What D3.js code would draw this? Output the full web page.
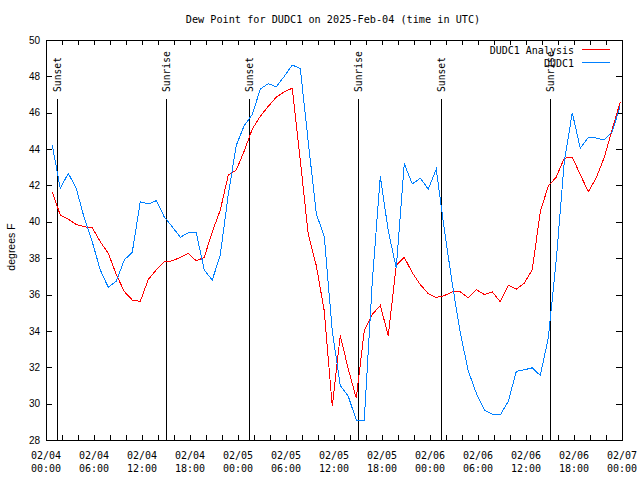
<!DOCTYPE html>
<html><head><meta charset="utf-8">
<script src="https://cdn.jsdelivr.net/npm/d3@7"></script>
<style>body{margin:0;background:#fff}svg{display:block}</style>
</head><body>
<svg id="c" width="640" height="480"></svg>
<script>
const title = "Dew Point for DUDC1 on 2025-Feb-04 (time in UTC)";
const yLabel = "degrees F";
const seriesNames = ["DUDC1 Analysis", "DUDC1"];
const seriesColors = ["#ff0000", "#0080ff"];
const firstObs = "2025-02-04T00:47:00Z";
const stepHours = 1;
const analysis = [41.65,40.37,40.15,39.85,39.73,39.67,38.9,38.27,37.1,36.17,35.7,35.62,
  36.83,37.35,37.8,37.85,38.05,38.27,37.85,38.05,39.45,40.64,42.57,42.85,
  43.9,45.1,45.8,46.35,46.85,47.15,47.35,43.4,39.3,37.6,35.1,29.85,
  33.75,31.9,30.3,34.0,34.9,35.4,33.75,37.6,38.05,37.2,36.55,36.05,
  35.84,35.94,36.15,36.15,35.82,36.27,36.0,36.15,35.6,36.51,36.29,36.62,
  37.36,40.55,41.97,42.46,43.5,43.55,42.6,41.65,42.42,43.55,45.1,46.6];
const observed = [44.22,41.84,42.67,41.84,40.2,38.9,37.35,36.4,36.73,37.9,38.33,41.1,
  40.98,41.16,40.27,39.73,39.15,39.4,39.4,37.35,36.8,38.17,41.5,44.2,
  45.3,45.9,47.3,47.6,47.43,48.0,48.62,48.44,44.4,40.45,39.2,34.0,
  31.0,30.4,29.1,29.1,36.7,42.5,39.5,37.45,43.2,42.08,42.4,41.8,
  42.9,39.6,36.6,33.9,31.8,30.58,29.66,29.41,29.38,30.12,31.77,31.86,
  31.97,31.55,33.6,37.9,43.3,46.0,44.05,44.63,44.61,44.5,44.95,46.4];
const sunLabels = ["Sunset","Sunrise","Sunset","Sunrise","Sunset","Sunrise"];
const sunTimes = ["2025-02-04T01:25:00Z","2025-02-04T15:00:00Z","2025-02-05T01:25:00Z",
  "2025-02-05T15:00:00Z","2025-02-06T01:25:00Z","2025-02-06T15:00:00Z"];
const xDomain = ["2025-02-04T00:00:00Z","2025-02-07T00:00:00Z"];
const yTicks = [28,30,32,34,36,38,40,42,44,46,48,50];

const mono = "'DejaVu Sans Mono', monospace";
const sans = "'Liberation Sans', Arial, sans-serif";
const L = 46, R = 622, T = 40, B = 440;
const svg = d3.select("#c");
const x = d3.scaleUtc().domain(xDomain.map(d => new Date(d))).range([L, R]);
const y = d3.scaleLinear().domain([28, 50]).range([B, T]);
const t0 = new Date(firstObs).getTime();
const times = analysis.map((_, i) => new Date(t0 + i * stepHours * 3600e3));

// frame
svg.append("rect").attr("x", L + 0.5).attr("y", T + 0.5).attr("width", R - L).attr("height", B - T)
  .attr("fill", "none").attr("stroke", "#000").attr("shape-rendering", "crispEdges");

// x ticks (every 2 h, top and bottom)
const minor = d3.utcHour.every(2).range(x.domain()[0], new Date(x.domain()[1].getTime() + 1));
const tk = svg.append("g").attr("stroke", "#000").attr("shape-rendering", "crispEdges");
minor.forEach(d => {
  const px = Math.round(x(d)) + 0.5;
  tk.append("line").attr("x1", px).attr("x2", px).attr("y1", B).attr("y2", B - 5);
  tk.append("line").attr("x1", px).attr("x2", px).attr("y1", T).attr("y2", T + 5);
});
yTicks.forEach(v => {
  const py = Math.round(y(v)) + 0.5;
  tk.append("line").attr("x1", L).attr("x2", L + 6).attr("y1", py).attr("y2", py);
  tk.append("line").attr("x1", R).attr("x2", R - 6).attr("y1", py).attr("y2", py);
});

// x labels
const major = d3.utcHour.every(6).range(x.domain()[0], new Date(x.domain()[1].getTime() + 1));
const fmtD = d3.utcFormat("%m/%d"), fmtH = d3.utcFormat("%H:%M");
major.forEach(d => {
  const t = svg.append("text").attr("font-family", mono).attr("font-size", 10)
    .attr("text-anchor", "middle").attr("fill", "#000");
  t.append("tspan").attr("x", x(d)).attr("y", 459).text(fmtD(d));
  t.append("tspan").attr("x", x(d)).attr("y", 472).text(fmtH(d));
});
// y labels
yTicks.forEach(v => {
  svg.append("text").attr("x", 40).attr("y", y(v)).attr("dy", "0.36em")
    .attr("text-anchor", "end").attr("font-family", sans).attr("font-size", 10)
    .attr("fill", "#000").text(v);
});
svg.append("text").attr("transform", "translate(15,247) rotate(-90)")
  .attr("text-anchor", "middle").attr("font-family", sans).attr("font-size", 10.5)
  .attr("fill", "#000").text(yLabel);

// title
svg.append("text").attr("x", 333).attr("y", 23).attr("text-anchor", "middle")
  .attr("font-family", mono).attr("font-size", 10.2).attr("fill", "#000").text(title);

// sun events
sunTimes.forEach((s, i) => {
  const px = Math.round(x(new Date(s))) + 0.5;
  svg.append("line").attr("x1", px).attr("x2", px).attr("y1", 99).attr("y2", B)
    .attr("stroke", "#000").attr("shape-rendering", "crispEdges");
  svg.append("text").attr("transform", `translate(${px},92) rotate(-90)`)
    .attr("dy", "0.35em").attr("font-family", mono).attr("font-size", 9.7)
    .attr("fill", "#000").text(sunLabels[i]);
});

// series
const line = d3.line().x((d, i) => x(times[i])).y(d => y(d));
[analysis, observed].forEach((arr, k) => {
  svg.append("path").datum(arr).attr("d", line).attr("fill", "none")
    .attr("stroke", seriesColors[k]).attr("stroke-width", 1)
    .attr("shape-rendering", "crispEdges");
});

// legend
seriesNames.forEach((n, k) => {
  const ly = 50 + k * 13;
  svg.append("text").attr("x", 574).attr("y", ly).attr("dy", "0.35em")
    .attr("text-anchor", "end").attr("font-family", mono).attr("font-size", 10)
    .attr("fill", "#000").text(n);
  svg.append("line").attr("x1", 582).attr("x2", 610).attr("y1", ly - 0.5).attr("y2", ly - 0.5)
    .attr("stroke", seriesColors[k]).attr("shape-rendering", "crispEdges");
});
</script>
</body></html>
